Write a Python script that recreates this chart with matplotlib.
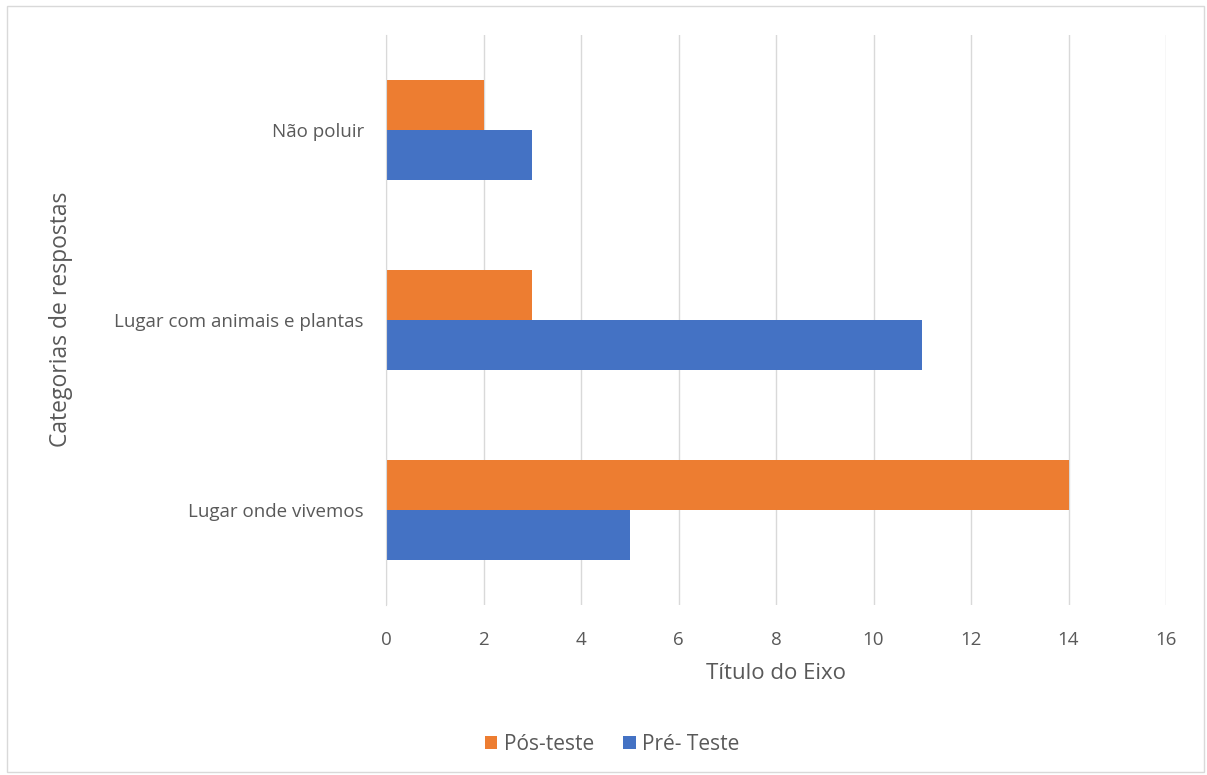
import numpy as np
import matplotlib.pyplot as plt
from matplotlib.patches import Rectangle

categories = ["Lugar onde vivemos", "Lugar com animais e plantas", "Não poluir"]
pre_teste = [5, 11, 3]
pos_teste = [14, 3, 2]
x_ticks = [0, 2, 4, 6, 8, 10, 12, 14, 16]

plt.rcParams['font.family'] = ['Open Sans', 'DejaVu Sans']
text_color = '#595959'

fig = plt.figure(figsize=(12.07, 7.75), dpi=100)
fig.patches.append(Rectangle((7 / 1207, 3 / 775), 1197 / 1207, 766 / 775,
                             transform=fig.transFigure, fill=False,
                             edgecolor='#D9D9D9', linewidth=1))
ax = fig.add_axes([386 / 1207, (775 - 605) / 775, 780 / 1207, 570 / 775])

y = np.arange(len(categories))
h = 50 / 190
ax.barh(y - h / 2, pre_teste, height=h, color='#4472C4', label='Pré- Teste')
ax.barh(y + h / 2, pos_teste, height=h, color='#ED7D31', label='Pós-teste')

ax.set_xlim(0, 16)
ax.set_ylim(-0.5, 2.5)
ax.set_xticks(x_ticks)
ax.set_yticks(y)
ax.set_yticklabels(categories)
ax.grid(axis='x', color='#D9D9D9', linewidth=1)
ax.set_axisbelow(True)
for s in ['top', 'right', 'bottom']:
    ax.spines[s].set_visible(False)
ax.spines['left'].set_color('#D9D9D9')
ax.tick_params(length=0, labelsize=13.5, colors=text_color)
ax.tick_params(axis='x', pad=19)
ax.tick_params(axis='y', pad=16)

ax.set_xlabel('Título do Eixo', fontsize=16, color=text_color, labelpad=10)
fig.text(61 / 1207, 1 - 319 / 775, 'Categorias de respostas', rotation=90,
         ha='center', va='center', fontsize=16.5, color=text_color)

handles, labels = ax.get_legend_handles_labels()
fig.legend(handles[::-1], labels[::-1], loc='center', bbox_to_anchor=(612 / 1207, 1 - 744 / 775),
           ncol=2, frameon=False, fontsize=15, labelcolor=text_color,
           handlelength=0.6, handleheight=0.6, handletextpad=0.3, columnspacing=1.4)

fig.savefig('out.png', dpi=100)
